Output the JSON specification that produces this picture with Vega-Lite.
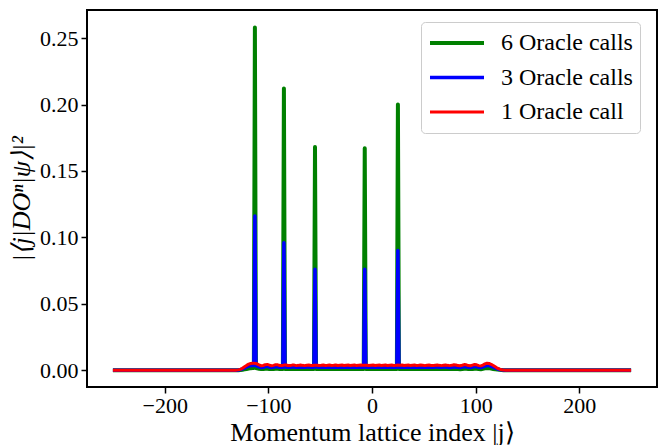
{
  "$schema": "https://vega.github.io/schema/vega-lite/v6.json",
  "width": 570,
  "height": 377,
  "autosize": {"type": "none"},
  "padding": {"left": 87, "top": 10, "right": 7, "bottom": 58},
  "background": "white",
  "config": {
    "font": "Liberation Serif",
    "view": {"stroke": "black", "strokeWidth": 2},
    "axis": {
      "grid": false,
      "domain": false,
      "tickColor": "black",
      "tickWidth": 1.5,
      "tickSize": 6,
      "labelColor": "black",
      "labelFontSize": 22,
      "titleColor": "black",
      "titleFontWeight": "normal"
    }
  },
  "data": {
    "values": [
      {"j": -250, "g": 0, "b": 0, "r": 0},
      {"j": -131, "g": 0, "b": 0, "r": 0},
      {"j": -129, "g": 0.0000, "b": 0.0001, "r": 0.0002},
      {"j": -127, "g": 0.0001, "b": 0.0004, "r": 0.0006},
      {"j": -125, "g": 0.0003, "b": 0.0009, "r": 0.0014},
      {"j": -123, "g": 0.0006, "b": 0.0016, "r": 0.0025},
      {"j": -121, "g": 0.0009, "b": 0.0024, "r": 0.0036},
      {"j": -119, "g": 0.0012, "b": 0.0030, "r": 0.0045},
      {"j": -117, "g": 0.0015, "b": 0.0034, "r": 0.0050},
      {"j": -115, "g": 0.0016, "b": 0.0035, "r": 0.0052},
      {"j": -114, "g": 0.0016, "b": 0.0035, "r": 0.0052},
      {"j": -113, "g": 0.258, "b": 0.116, "r": 0.0051},
      {"j": -112, "g": 0.0015, "b": 0.0034, "r": 0.0050},
      {"j": -111, "g": 0.0013, "b": 0.0031, "r": 0.0047},
      {"j": -109, "g": 0.0010, "b": 0.0025, "r": 0.0039},
      {"j": -107, "g": 0.0008, "b": 0.0020, "r": 0.0033},
      {"j": -105, "g": 0.0009, "b": 0.0022, "r": 0.0035},
      {"j": -103, "g": 0.0011, "b": 0.0027, "r": 0.0041},
      {"j": -101, "g": 0.0011, "b": 0.0028, "r": 0.0043},
      {"j": -99, "g": 0.0009, "b": 0.0024, "r": 0.0038},
      {"j": -97, "g": 0.0008, "b": 0.0020, "r": 0.0033},
      {"j": -95, "g": 0.0009, "b": 0.0023, "r": 0.0036},
      {"j": -93, "g": 0.0010, "b": 0.0026, "r": 0.0041},
      {"j": -91, "g": 0.0010, "b": 0.0025, "r": 0.0040},
      {"j": -89, "g": 0.0008, "b": 0.0021, "r": 0.0035},
      {"j": -87, "g": 0.0008, "b": 0.0021, "r": 0.0034},
      {"j": -86, "g": 0.0009, "b": 0.0022, "r": 0.0036},
      {"j": -85, "g": 0.212, "b": 0.096, "r": 0.0038},
      {"j": -84, "g": 0.0009, "b": 0.0024, "r": 0.0039},
      {"j": -83, "g": 0.0009, "b": 0.0024, "r": 0.0039},
      {"j": -81, "g": 0.0008, "b": 0.0021, "r": 0.0035},
      {"j": -79, "g": 0.0008, "b": 0.0021, "r": 0.0034},
      {"j": -77, "g": 0.0009, "b": 0.0023, "r": 0.0038},
      {"j": -75, "g": 0.0009, "b": 0.0023, "r": 0.0038},
      {"j": -73, "g": 0.0008, "b": 0.0021, "r": 0.0034},
      {"j": -71, "g": 0.0008, "b": 0.0022, "r": 0.0036},
      {"j": -69, "g": 0.0009, "b": 0.0024, "r": 0.0039},
      {"j": -67, "g": 0.0008, "b": 0.0022, "r": 0.0036},
      {"j": -65, "g": 0.0008, "b": 0.0021, "r": 0.0034},
      {"j": -63, "g": 0.0009, "b": 0.0023, "r": 0.0037},
      {"j": -61, "g": 0.0009, "b": 0.0023, "r": 0.0038},
      {"j": -59, "g": 0.0008, "b": 0.0021, "r": 0.0035},
      {"j": -57, "g": 0.0008, "b": 0.0022, "r": 0.0035},
      {"j": -56, "g": 0.0008, "b": 0.0022, "r": 0.0036},
      {"j": -55, "g": 0.168, "b": 0.076, "r": 0.0037},
      {"j": -54, "g": 0.0009, "b": 0.0023, "r": 0.0037},
      {"j": -53, "g": 0.0009, "b": 0.0023, "r": 0.0037},
      {"j": -51, "g": 0.0008, "b": 0.0021, "r": 0.0035},
      {"j": -49, "g": 0.0008, "b": 0.0022, "r": 0.0036},
      {"j": -47, "g": 0.0009, "b": 0.0023, "r": 0.0038},
      {"j": -45, "g": 0.0008, "b": 0.0021, "r": 0.0035},
      {"j": -43, "g": 0.0008, "b": 0.0022, "r": 0.0036},
      {"j": -41, "g": 0.0009, "b": 0.0023, "r": 0.0038},
      {"j": -39, "g": 0.0008, "b": 0.0021, "r": 0.0035},
      {"j": -37, "g": 0.0008, "b": 0.0022, "r": 0.0036},
      {"j": -35, "g": 0.0009, "b": 0.0023, "r": 0.0038},
      {"j": -33, "g": 0.0008, "b": 0.0021, "r": 0.0035},
      {"j": -31, "g": 0.0008, "b": 0.0022, "r": 0.0037},
      {"j": -29, "g": 0.0009, "b": 0.0023, "r": 0.0038},
      {"j": -27, "g": 0.0008, "b": 0.0021, "r": 0.0035},
      {"j": -25, "g": 0.0008, "b": 0.0022, "r": 0.0037},
      {"j": -23, "g": 0.0009, "b": 0.0023, "r": 0.0038},
      {"j": -21, "g": 0.0008, "b": 0.0021, "r": 0.0035},
      {"j": -19, "g": 0.0008, "b": 0.0022, "r": 0.0037},
      {"j": -17, "g": 0.0009, "b": 0.0023, "r": 0.0038},
      {"j": -15, "g": 0.0008, "b": 0.0021, "r": 0.0035},
      {"j": -13, "g": 0.0008, "b": 0.0022, "r": 0.0037},
      {"j": -11, "g": 0.0009, "b": 0.0023, "r": 0.0038},
      {"j": -9, "g": 0.0008, "b": 0.0022, "r": 0.0036},
      {"j": -8, "g": 0.0008, "b": 0.0022, "r": 0.0036},
      {"j": -7, "g": 0.167, "b": 0.076, "r": 0.0037},
      {"j": -6, "g": 0.0008, "b": 0.0022, "r": 0.0037},
      {"j": -5, "g": 0.0008, "b": 0.0022, "r": 0.0037},
      {"j": -3, "g": 0.0008, "b": 0.0021, "r": 0.0035},
      {"j": -1, "g": 0.0008, "b": 0.0022, "r": 0.0037},
      {"j": 1, "g": 0.0009, "b": 0.0023, "r": 0.0038},
      {"j": 3, "g": 0.0008, "b": 0.0021, "r": 0.0035},
      {"j": 5, "g": 0.0008, "b": 0.0022, "r": 0.0037},
      {"j": 7, "g": 0.0009, "b": 0.0023, "r": 0.0038},
      {"j": 9, "g": 0.0008, "b": 0.0021, "r": 0.0035},
      {"j": 11, "g": 0.0008, "b": 0.0022, "r": 0.0037},
      {"j": 13, "g": 0.0009, "b": 0.0023, "r": 0.0038},
      {"j": 15, "g": 0.0008, "b": 0.0021, "r": 0.0035},
      {"j": 17, "g": 0.0008, "b": 0.0022, "r": 0.0037},
      {"j": 19, "g": 0.0009, "b": 0.0023, "r": 0.0038},
      {"j": 21, "g": 0.0008, "b": 0.0021, "r": 0.0035},
      {"j": 23, "g": 0.0008, "b": 0.0022, "r": 0.0036},
      {"j": 24, "g": 0.0008, "b": 0.0022, "r": 0.0037},
      {"j": 25, "g": 0.200, "b": 0.090, "r": 0.0038},
      {"j": 26, "g": 0.0008, "b": 0.0022, "r": 0.0037},
      {"j": 27, "g": 0.0008, "b": 0.0022, "r": 0.0036},
      {"j": 29, "g": 0.0009, "b": 0.0023, "r": 0.0038},
      {"j": 31, "g": 0.0008, "b": 0.0021, "r": 0.0035},
      {"j": 33, "g": 0.0008, "b": 0.0022, "r": 0.0037},
      {"j": 35, "g": 0.0009, "b": 0.0023, "r": 0.0038},
      {"j": 37, "g": 0.0008, "b": 0.0021, "r": 0.0035},
      {"j": 39, "g": 0.0008, "b": 0.0022, "r": 0.0037},
      {"j": 41, "g": 0.0009, "b": 0.0023, "r": 0.0038},
      {"j": 43, "g": 0.0008, "b": 0.0021, "r": 0.0035},
      {"j": 45, "g": 0.0008, "b": 0.0022, "r": 0.0036},
      {"j": 47, "g": 0.0009, "b": 0.0023, "r": 0.0038},
      {"j": 49, "g": 0.0008, "b": 0.0022, "r": 0.0036},
      {"j": 51, "g": 0.0008, "b": 0.0021, "r": 0.0034},
      {"j": 53, "g": 0.0008, "b": 0.0022, "r": 0.0037},
      {"j": 55, "g": 0.0009, "b": 0.0023, "r": 0.0038},
      {"j": 57, "g": 0.0008, "b": 0.0021, "r": 0.0035},
      {"j": 59, "g": 0.0008, "b": 0.0021, "r": 0.0034},
      {"j": 61, "g": 0.0009, "b": 0.0023, "r": 0.0037},
      {"j": 63, "g": 0.0009, "b": 0.0024, "r": 0.0039},
      {"j": 65, "g": 0.0008, "b": 0.0022, "r": 0.0036},
      {"j": 67, "g": 0.0008, "b": 0.0021, "r": 0.0034},
      {"j": 69, "g": 0.0009, "b": 0.0023, "r": 0.0037},
      {"j": 71, "g": 0.0009, "b": 0.0024, "r": 0.0039},
      {"j": 73, "g": 0.0008, "b": 0.0022, "r": 0.0036},
      {"j": 75, "g": 0.0008, "b": 0.0020, "r": 0.0034},
      {"j": 77, "g": 0.0008, "b": 0.0022, "r": 0.0036},
      {"j": 79, "g": 0.0010, "b": 0.0025, "r": 0.0040},
      {"j": 81, "g": 0.0009, "b": 0.0024, "r": 0.0039},
      {"j": 83, "g": 0.0008, "b": 0.0021, "r": 0.0034},
      {"j": 85, "g": 0.0007, "b": 0.0020, "r": 0.0033},
      {"j": 87, "g": 0.0009, "b": 0.0023, "r": 0.0037},
      {"j": 89, "g": 0.0011, "b": 0.0027, "r": 0.0042},
      {"j": 91, "g": 0.0010, "b": 0.0025, "r": 0.0040},
      {"j": 93, "g": 0.0008, "b": 0.0021, "r": 0.0034},
      {"j": 95, "g": 0.0008, "b": 0.0020, "r": 0.0033},
      {"j": 97, "g": 0.0009, "b": 0.0024, "r": 0.0038},
      {"j": 99, "g": 0.0011, "b": 0.0028, "r": 0.0043},
      {"j": 101, "g": 0.0010, "b": 0.0026, "r": 0.0040},
      {"j": 103, "g": 0.0008, "b": 0.0021, "r": 0.0034},
      {"j": 105, "g": 0.0007, "b": 0.0019, "r": 0.0032},
      {"j": 107, "g": 0.0010, "b": 0.0024, "r": 0.0038},
      {"j": 109, "g": 0.0013, "b": 0.0031, "r": 0.0047},
      {"j": 111, "g": 0.0016, "b": 0.0035, "r": 0.0052},
      {"j": 113, "g": 0.0015, "b": 0.0034, "r": 0.0050},
      {"j": 115, "g": 0.0012, "b": 0.0029, "r": 0.0044},
      {"j": 117, "g": 0.0009, "b": 0.0023, "r": 0.0035},
      {"j": 119, "g": 0.0006, "b": 0.0016, "r": 0.0025},
      {"j": 121, "g": 0.0004, "b": 0.0010, "r": 0.0015},
      {"j": 123, "g": 0.0002, "b": 0.0005, "r": 0.0008},
      {"j": 125, "g": 0.0001, "b": 0.0002, "r": 0.0003},
      {"j": 127, "g": 0.0000, "b": 0.0000, "r": 0.0001},
      {"j": 129, "g": 0, "b": 0, "r": 0},
      {"j": 250, "g": 0, "b": 0, "r": 0}
    ]
  },
  "transform": [{"fold": ["g", "b", "r"], "as": ["key", "p"]}],
  "encoding": {
    "x": {
      "field": "j",
      "type": "quantitative",
      "scale": {"domain": [-275, 275], "nice": false, "zero": false},
      "axis": {
        "values": [-200, -100, 0, 100, 200],
        "title": "Momentum lattice index |j⟩",
        "titleFontSize": 26,
        "titleX": 285,
        "titleY": 53,
        "titleAlign": "center",
        "titleBaseline": "alphabetic",
        "labelPadding": 2
      }
    },
    "y": {
      "field": "p",
      "type": "quantitative",
      "scale": {"domain": [-0.0127, 0.2712], "nice": false, "zero": false},
      "axis": {
        "values": [0, 0.05, 0.1, 0.15, 0.2, 0.25],
        "format": ".2f",
        "title": "|⟨j|DOⁿ|ψ⟩|²",
        "titleFontSize": 26,
        "titleFontStyle": "italic",
        "labelPadding": 3,
        "titlePadding": 5
      }
    },
    "color": {
      "field": "key",
      "type": "nominal",
      "scale": {"domain": ["g", "b", "r"], "range": ["#008000", "#0000ff", "#ff0000"]},
      "legend": {
        "title": null,
        "orient": "none",
        "legendX": 334,
        "legendY": 12,
        "labelExpr": "datum.value == 'g' ? '6 Oracle calls' : datum.value == 'b' ? '3 Oracle calls' : '1 Oracle call'",
        "labelFontSize": 24,
        "labelColor": "black",
        "symbolType": "stroke",
        "symbolSize": 2916,
        "clipHeight": 28,
        "rowPadding": 6.5,
        "labelOffset": 15,
        "padding": 7,
        "fillColor": "white",
        "strokeColor": "#cccccc",
        "cornerRadius": 4
      }
    },
    "strokeWidth": {
      "field": "key",
      "type": "nominal",
      "scale": {"domain": ["g", "b", "r"], "range": [4, 3, 2]},
      "legend": {
        "title": null,
        "orient": "none",
        "legendX": 334,
        "legendY": 12,
        "labelExpr": "datum.value == 'g' ? '6 Oracle calls' : datum.value == 'b' ? '3 Oracle calls' : '1 Oracle call'",
        "labelFontSize": 24,
        "labelColor": "black",
        "symbolType": "stroke",
        "symbolSize": 2916,
        "clipHeight": 28,
        "rowPadding": 6.5,
        "labelOffset": 15,
        "padding": 7,
        "fillColor": "white",
        "strokeColor": "#cccccc",
        "cornerRadius": 4
      }
    }
  },
  "layer": [
    {"transform": [{"filter": "datum.key == 'g'"}], "mark": {"type": "line", "strokeJoin": "round"}},
    {"transform": [{"filter": "datum.key == 'b'"}], "mark": {"type": "line", "strokeJoin": "round"}},
    {"transform": [{"filter": "datum.key == 'r'"}], "mark": {"type": "line", "strokeJoin": "round"}}
  ]
}
